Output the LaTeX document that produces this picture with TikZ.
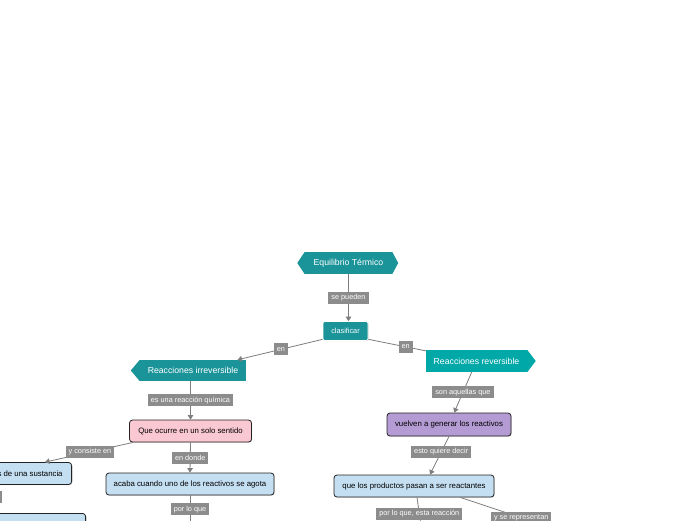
\documentclass[tikz,border=0pt]{standalone}
\usepackage{fontspec}
\setmainfont{Liberation Sans}
\usetikzlibrary{arrows.meta,calc,shadows}
\definecolor{tealA}{RGB}{27,148,153}
\definecolor{tealB}{RGB}{0,168,168}
\definecolor{pinkN}{RGB}{250,200,211}
\definecolor{blueN}{RGB}{197,223,242}
\definecolor{purpN}{RGB}{180,155,211}
\definecolor{lblG}{RGB}{140,140,140}
\definecolor{conG}{RGB}{125,125,125}
\definecolor{bordD}{RGB}{35,35,35}
\begin{document}
\begin{tikzpicture}[x=1pt,y=-1pt,
  conn/.style={draw=conG,line width=0.8pt},
  arr/.style={-{Triangle[width=5.5pt,length=4.5pt]}},
  lbl/.style={fill=lblG,text=white,font=\fontsize{7.3}{8}\selectfont,inner xsep=3pt,inner ysep=0pt,minimum height=12pt},
  box/.style={draw=bordD,line width=0.8pt,rounded corners=3pt,minimum height=22pt,inner sep=0pt,text=black,font=\fontsize{7.8}{9}\selectfont,drop shadow={shadow xshift=0.7pt,shadow yshift=-0.7pt,opacity=0.35}},
  tealbody/.style={fill=tealA,text=white,inner sep=0pt,font=\fontsize{8.7}{10}\selectfont}
]
\clip (0,0) rectangle (696,520);
\fill[white] (0,0) rectangle (696,520);

% teal headers
\node[tealbody,minimum width=87pt,minimum height=22pt] (eq) at (348.5,263) {Equilibrio Térmico};
\fill[tealA] (eq.north west) -- ($(eq.west)+(-7.5,0)$) -- (eq.south west) -- cycle;
\fill[tealA] (eq.north east) -- ($(eq.east)+(6,0)$) -- (eq.south east) -- cycle;

\node[tealbody,draw=white,line width=0.7pt,rounded corners=2pt,minimum width=45pt,minimum height=19pt,font=\fontsize{7.3}{9}\selectfont,drop shadow={shadow xshift=0.6pt,shadow yshift=-0.6pt,opacity=0.3}] (clas) at (345.5,331) {clasificar};

\node[tealbody,minimum width=106pt,minimum height=21pt] (irr) at (193,370.5) {Reacciones irreversible};
\fill[tealA] (irr.north west) -- ($(irr.west)+(-9,0)$) -- (irr.south west) -- cycle;

\node[tealbody,fill=tealB,minimum width=101pt,minimum height=22pt] (rev) at (476.5,361) {Reacciones reversible};
\fill[tealB] (rev.north east) -- ($(rev.east)+(8.5,0)$) -- (rev.south east) -- cycle;

% boxes
\node[box,fill=pinkN,minimum width=122pt] (que) at (190.5,431) {Que ocurre en un solo sentido};
\node[box,fill=blueN,minimum width=168pt] (acaba) at (190,484) {acaba cuando uno de los reactivos se agota};
\node[box,fill=blueN,anchor=east,inner xsep=9pt] (sust) at (72,473.5) {s de una sustancia};
\node[box,fill=blueN,anchor=north east,minimum width=130pt,minimum height=30pt] (bl) at (86,513) {};
\node[lbl,anchor=east,minimum width=30pt] (blab) at (2,496.5) {};
\node[box,fill=purpN,minimum width=124pt,minimum height=23pt] (vuel) at (449,424.5) {vuelven a generar los reactivos};
\node[box,fill=blueN,minimum width=160pt] (prod) at (414,486) {que los productos pasan a ser reactantes};

\coordinate (e1) at (190,526);
\coordinate (e2) at (423,540);
\coordinate (e3) at (582,538);

% connectors
\draw[conn,arr] (eq.south) -- node[lbl]{se pueden} (eq.south |- clas.north);
\draw[conn,arr] (clas.200) -- node[lbl,pos=0.49]{en} (irr);
\draw[conn] (clas.-20) -- node[lbl,pos=0.65]{en} (rev);
\draw[conn,arr] (irr.south -| que.north) -- node[lbl]{es una reacción química} (que.north);
\draw[conn,arr] ($(que.south west)+(4,0)$) -- node[lbl,pos=0.49]{y consiste en} ($(sust.north east)+(-27,0)$);
\draw[conn,arr] (que.south) -- node[lbl]{en donde} (acaba.north);
\draw[conn,arr] (acaba.south) -- node[lbl,pos=0.45]{por lo que} (e1);
\draw[conn,arr] (rev) -- node[lbl]{son aquellas que} (vuel);
\draw[conn,arr] (vuel.south) -- node[lbl,pos=0.41]{esto quiere decir} ($(prod.north)+(16,0)$);
\draw[conn,arr] ($(prod.south)+(3,0)$) -- node[lbl,pos=0.38]{por lo que, esta reacción} (e2);
\draw[conn,arr] ($(prod.south east)+(-34,0)$) -- node[lbl,pos=0.5]{y se representan} (e3);
\end{tikzpicture}
\end{document}
